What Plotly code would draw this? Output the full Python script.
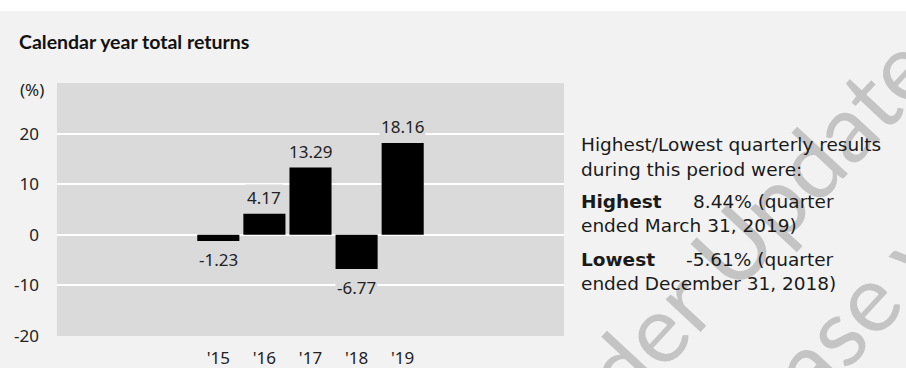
import plotly.graph_objects as go

# Data
years = ["'15", "'16", "'17", "'18", "'19"]
returns = [-1.23, 4.17, 13.29, -6.77, 18.16]
y_ticks = [-20, -10, 0, 10, 20, 30]
y_tick_text = ["-20", "-10", "0", "10", "20", ""]
highest_pct = 8.44
highest_end = "March 31, 2019"
lowest_pct = -5.61
lowest_end = "December 31, 2018"

# Page geometry (px)
W, H = 906, 368
L, R, T, B = 57, 564, 83, 336
PANEL = "#f2f2f2"
PLOT_BG = "#dadada"
TXT = "#222222"
FONT = "Noto Sans"
SIDE_FONT = "DejaVu Sans"


def px_x(px):
    return (px - L) / (R - L)


def px_y(py):
    return (B - py) / (B - T)


fig = go.Figure(
    go.Bar(
        x=years,
        y=returns,
        marker=dict(color="#000000", line=dict(width=0)),
        hoverinfo="skip",
    )
)

annotations = []

# watermark
for text, cx, cy in [("Under Update", 715, 262), ("Release version", 883, 278)]:
    annotations.append(dict(
        text=text, xref="paper", yref="paper", x=px_x(cx), y=px_y(cy),
        xanchor="center", yanchor="middle", showarrow=False, textangle=-47,
        font=dict(family="Lato", size=94, color="#c4c4c4"),
    ))

# bar value labels
for yr, v in zip(years, returns):
    annotations.append(dict(
        x=yr, y=v, text=f"{v:.2f}", showarrow=False,
        yshift=16 if v >= 0 else -18, yanchor="middle",
        bgcolor=PLOT_BG, borderpad=1,
        font=dict(family=FONT, size=17, color=TXT),
    ))

# (%) label
annotations.append(dict(
    text="(%)", xref="paper", yref="y", x=px_x(18), y=30, yshift=-6,
    xanchor="left", yanchor="middle", showarrow=False,
    font=dict(family=FONT, size=17, color=TXT),
))

# title
annotations.append(dict(
    text="<b>Calendar year total returns</b>", xref="paper", yref="paper",
    x=px_x(17), y=px_y(41), xanchor="left", yanchor="middle", showarrow=False,
    font=dict(family="Lato", size=19.5, color="#111111"),
))

# side notes
side = [
    ("Highest/Lowest quarterly results", 579, 144, "left"),
    ("during this period were:", 579, 169, "left"),
    ("<b>Highest</b>", 579, 201, "left"),
    (f"{highest_pct:.2f}% (quarter", 836, 201, "right"),
    (f"ended {highest_end})", 579, 225, "left"),
    ("<b>Lowest</b>", 579, 259, "left"),
    (f"{lowest_pct:.2f}% (quarter", 836, 259, "right"),
    (f"ended {lowest_end})", 579, 283, "left"),
]
for text, x, y, anc in side:
    annotations.append(dict(
        text=text, xref="paper", yref="paper", x=px_x(x), y=px_y(y),
        xanchor=anc, yanchor="middle", showarrow=False,
        font=dict(family=SIDE_FONT, size=18.5, color="#1a1a1a"),
    ))

fig.update_layout(
    width=W,
    height=H,
    margin=dict(l=L, r=W - R, t=T, b=H - B, pad=0),
    paper_bgcolor=PANEL,
    plot_bgcolor=PLOT_BG,
    showlegend=False,
    bargap=0.087,
    font=dict(family=FONT, size=17, color=TXT),
    xaxis=dict(
        type="category",
        range=[-3.5, 7.5],
        showgrid=False,
        zeroline=False,
        showline=False,
        ticks="",
        ticklabelstandoff=10,
        automargin=False,
        tickfont=dict(family=FONT, size=17, color=TXT),
        fixedrange=True,
    ),
    yaxis=dict(
        range=[-20, 30],
        tickvals=y_ticks,
        ticktext=y_tick_text,
        showgrid=True,
        gridcolor="#ffffff",
        gridwidth=2,
        zeroline=True,
        zerolinecolor="#ffffff",
        zerolinewidth=2,
        showline=False,
        ticks="",
        ticklabelstandoff=17,
        automargin=False,
        tickfont=dict(family=FONT, size=17, color=TXT),
        fixedrange=True,
    ),
    shapes=[
        # white strip at the very top of the page
        dict(type="rect", xref="paper", yref="paper", x0=px_x(-2), x1=px_x(W + 2),
             y0=px_y(11), y1=px_y(-2), fillcolor="#ffffff", line=dict(width=0),
             layer="above"),
    ],
    annotations=annotations,
)

fig.write_html(
    "out.html",
    config={"displayModeBar": False},
    post_script="document.body.style.margin='0';document.body.style.overflow='hidden';",
)
